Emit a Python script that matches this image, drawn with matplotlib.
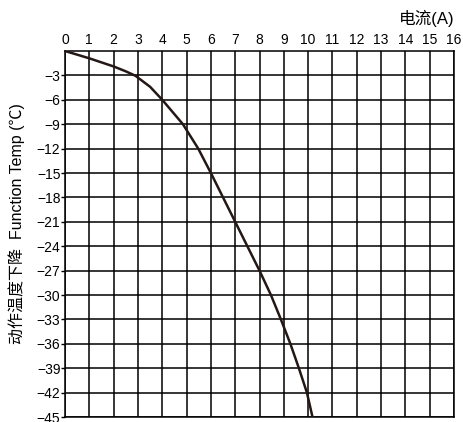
import matplotlib
matplotlib.use("Agg")
import matplotlib.pyplot as plt

plt.rcParams["font.family"] = ["Liberation Sans", "Noto Sans CJK SC", "DejaVu Sans"]

# ── data ─────────────────────────────────────────────────────────────────────
current = [0, 0.5, 1, 1.5, 2, 2.5, 2.9, 3.5, 4.0, 4.85, 5.48, 6.0, 6.5,
           7.0, 7.5, 8.0, 8.47, 8.88, 9.27, 9.62, 9.95, 10.18]
temp_drop = [0, -0.45, -0.9, -1.4, -1.9, -2.5, -3.05, -4.4, -6.0, -9.0, -12.0,
             -15.0, -18.0, -21.0, -24.0, -27.0, -30.0, -33.0, -36.0, -39.0,
             -42.0, -45.0]

x_ticks = list(range(0, 17))
y_ticks = list(range(-3, -46, -3))

# ── plot ─────────────────────────────────────────────────────────────────────
fig = plt.figure(figsize=(4.63, 4.22), dpi=100)
fig.patch.set_facecolor("white")
ax = fig.add_axes([65 / 463, 5 / 422, 389 / 463, 366 / 422])

ax.set_xlim(0, 16)
ax.set_ylim(-45, 0)
ax.set_xticks(x_ticks)
ax.set_yticks(y_ticks)
ax.xaxis.tick_top()
ax.tick_params(axis="x", length=0, labelsize=10, pad=3)
ax.tick_params(axis="y", length=3, width=1.0, labelsize=10, pad=0.3)
ax.grid(True, color="black", lw=1.1)
for s in ax.spines.values():
    s.set_linewidth(1.1)

ax.plot(current, temp_drop, color="#231815", lw=1.8, solid_capstyle="round",
        solid_joinstyle="round", zorder=3)

fig.text(455 / 463, 1 - 18 / 422, "电流(A)", ha="right", va="center",
         fontsize=12)
fig.text(17 / 463, 1 - 224 / 422, "动作温度下降  Function Temp (℃)",
         rotation=90, ha="center", va="center", fontsize=11.5)

plt.savefig("out.png", dpi=100, facecolor="white")
